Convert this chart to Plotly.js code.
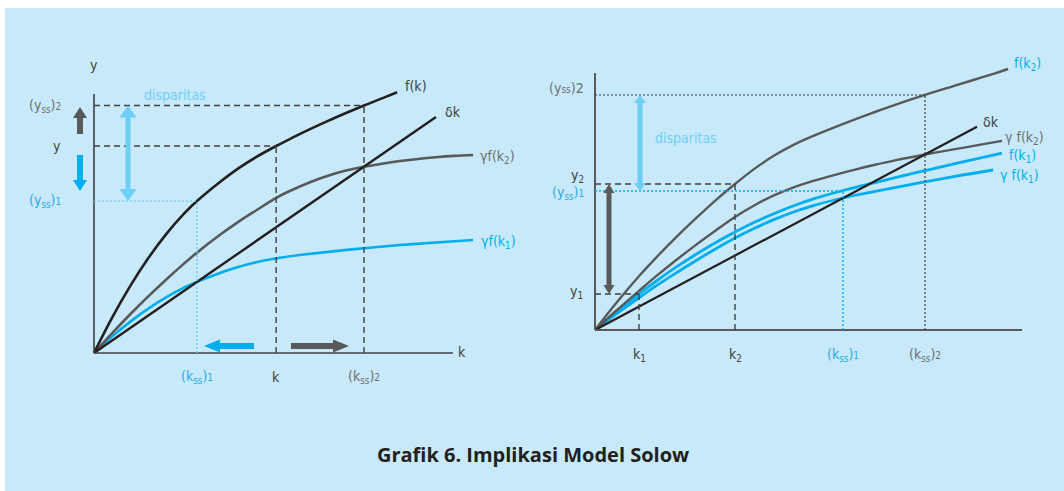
<!DOCTYPE html>
<html><head><meta charset="utf-8">
<script src="https://cdn.plot.ly/plotly-3.0.1.min.js"></script>
<style>html,body{margin:0;padding:0;background:#fff}#chart{width:1064px;height:491px}</style>
</head><body><div id="chart"></div>
<script>
// ---------------- Left panel data (units: k, y) ----------------
const L_fk_k   = [0, 0.5, 1, 1.5, 2, 2.5, 2.86, 3.5, 4, 4.5, 5.06, 5.5, 6, 6.5, 7, 7.5, 8, 8.42];
const L_fk_y   = [0, 0.975, 1.849, 2.623, 3.296, 3.869, 4.22, 4.75, 5.12, 5.44, 5.75, 5.974, 6.217, 6.448, 6.666, 6.875, 7.073, 7.241];
const L_gfk2_k = [0, 0.5, 1, 1.5, 2, 2.5, 2.86, 3.5, 4, 4.5, 5.06, 5.5, 6, 6.5, 7, 7.5, 8, 8.5, 9, 9.5, 10, 10.53];
const L_gfk2_y = [0, 0.547, 1.069, 1.566, 2.037, 2.483, 2.788, 3.283, 3.637, 3.958, 4.31, 4.529, 4.745, 4.924, 5.068, 5.175, 5.259, 5.331, 5.391, 5.439, 5.475, 5.5];
const L_gfk1_k = [0, 0.5, 1, 1.5, 2, 2.5, 2.86, 3.5, 4, 4.5, 5, 5.72, 6.5, 7.5, 8.5, 9.5, 10.53];
const L_gfk1_y = [0, 0.455, 0.865, 1.227, 1.544, 1.816, 1.975, 2.223, 2.386, 2.523, 2.62, 2.72, 2.81, 2.911, 2.998, 3.07, 3.14];
const L_dk_k   = [0, 9.5];
const L_dk_y   = [0, 6.556];
const L_kGuides = [2.86, 5.06, 7.5];    // (kss)1, k, (kss)2
const L_yGuides = [4.22, 5.75, 6.875];  // (yss)1, y, (yss)2

// ---------------- Right panel data ----------------
const R_fk2_k  = [0, 0.5, 1.125, 1.5, 2, 2.5, 3, 3.5, 4, 4.5, 5, 5.3, 6, 6.5, 7, 7.5, 8.25, 9, 9.5, 10, 10.325];
const R_fk2_y  = [0, 0.638, 1.375, 1.78, 2.29, 2.77, 3.23, 3.65, 4.041, 4.373, 4.647, 4.785, 5.071, 5.265, 5.45, 5.627, 5.876, 6.108, 6.263, 6.418, 6.525];
const R_gfk2_k = [0, 0.5, 1.125, 1.5, 2, 2.5, 3, 3.5, 4, 4.5, 5, 5.3, 6, 6.5, 7, 7.5, 8.25, 9, 9.5, 10.175];
const R_gfk2_y = [0, 0.456, 1.0, 1.32, 1.725, 2.11, 2.475, 2.825, 3.126, 3.378, 3.581, 3.68, 3.88, 4.011, 4.131, 4.242, 4.388, 4.521, 4.608, 4.727];
const R_fk1_k  = [0, 0.5, 1.1, 1.5, 2, 2.5, 3, 3.5, 4, 4.5, 5, 5.5, 6.2, 7, 8, 9, 10.175];
const R_fk1_y  = [0, 0.42, 0.9, 1.2, 1.551, 1.876, 2.175, 2.45, 2.698, 2.92, 3.118, 3.29, 3.488, 3.686, 3.926, 4.158, 4.42];
const R_gfk1_k = [0, 0.5, 1.125, 1.5, 2, 2.5, 3, 3.5, 4, 4.5, 5, 5.5, 6.2, 7, 8, 9, 9.95];
const R_gfk1_y = [0, 0.38, 0.825, 1.085, 1.41, 1.72, 2.02, 2.3, 2.55, 2.771, 2.962, 3.123, 3.3, 3.464, 3.659, 3.841, 4.0];
const R_dk_k   = [0, 9.55];
const R_dk_y   = [0, 5.08];
const R_kGuides = [1.1, 3.5, 6.2, 8.25];      // k1, k2, (kss)1, (kss)2
const R_yGuides = [0.9, 3.65, 3.475, 5.875];  // y1, y2, (yss)1, (yss)2

const titleText = 'Grafik 6. Implikasi Model Solow';

// ---------------- styling ----------------
const W = 1064, H = 491;
const PPU_L = 36, PPU_R = 40;             // pixels per unit
const OL = [94, 353], OR = [595, 330];    // origins in px
const BLACK = '#231f20', GRAY = '#58595b', BLUE = '#00aeef', LBLUE = '#6dcff6';
const TXT = '#404041', TGRAY = '#6d6e71', TBLUE = '#29abe2';
const FONT = "'Liberation Sans Narrow', 'DejaVu Sans Condensed', Lato, sans-serif";

function curve(x, y, color, width, ax) {
  return {x, y, type:'scatter', mode:'lines', line:{color, width, shape:'spline', smoothing:1},
          xaxis: ax ? 'x2' : 'x', yaxis: ax ? 'y2' : 'y', hoverinfo:'skip', showlegend:false};
}
const traces = [
  curve(L_gfk1_k, L_gfk1_y, BLUE, 2.6, 0),
  curve(L_gfk2_k, L_gfk2_y, GRAY, 2.6, 0),
  curve(L_dk_k, L_dk_y, BLACK, 2.4, 0),
  curve(L_fk_k, L_fk_y, BLACK, 2.6, 0),
  curve(R_gfk1_k, R_gfk1_y, BLUE, 2.8, 1),
  curve(R_fk1_k, R_fk1_y, BLUE, 2.8, 1),
  curve(R_gfk2_k, R_gfk2_y, GRAY, 2.4, 1),
  curve(R_fk2_k, R_fk2_y, GRAY, 2.4, 1),
  curve(R_dk_k, R_dk_y, BLACK, 2.2, 1)
];

const shapes = [];
// background panel
shapes.push({type:'rect', xref:'paper', yref:'paper', x0:5/W, x1:1, y0:0, y1:(H-8)/H,
  fillcolor:'#c7e9f9', line:{width:0}, layer:'below'});

function seg(ax, x0, y0, x1, y1, color, width, dash) {
  shapes.push({type:'line', xref: ax ? 'x2':'x', yref: ax ? 'y2':'y', x0, y0, x1, y1,
    line:{color, width, dash: dash || 'solid'}, layer:'above'});
}
// left axes
seg(0, 0, 0, (453-OL[0])/PPU_L, 0, TXT, 1.6);
seg(0, 0, 0, 0, (OL[1]-94)/PPU_L, TXT, 1.6);
// right axes
seg(1, 0, 0, (1022-OR[0])/PPU_R, 0, GRAY, 2);
seg(1, 0, 0, 0, (OR[1]-73)/PPU_R, GRAY, 2);

const DASH = '6px,4px', DOT = '2px,2px';
// left guides
seg(0, 0, L_yGuides[2], L_kGuides[2], L_yGuides[2], TXT, 1.4, DASH);
seg(0, 0, L_yGuides[1], L_kGuides[1], L_yGuides[1], TXT, 1.4, DASH);
seg(0, 0, L_yGuides[0], L_kGuides[0], L_yGuides[0], LBLUE, 1.4, DOT);
seg(0, L_kGuides[0], 0, L_kGuides[0], L_yGuides[0], LBLUE, 1.4, DOT);
seg(0, L_kGuides[1], 0, L_kGuides[1], L_yGuides[1], TXT, 1.4, DASH);
seg(0, L_kGuides[2], 0, L_kGuides[2], L_yGuides[2], TXT, 1.4, DASH);
// right guides
seg(1, 0, R_yGuides[3], R_kGuides[3], R_yGuides[3], TXT, 1.2, DOT);
seg(1, 0, R_yGuides[1], R_kGuides[1], R_yGuides[1], TXT, 1.4, DASH);
seg(1, 0, R_yGuides[2], R_kGuides[2], R_yGuides[2], BLUE, 1.4, DOT);
seg(1, 0, R_yGuides[0], R_kGuides[0], R_yGuides[0], TXT, 1.4, DASH);
seg(1, R_kGuides[0], 0, R_kGuides[0], R_yGuides[0], TXT, 1.4, DASH);
seg(1, R_kGuides[1], 0, R_kGuides[1], R_yGuides[1], TXT, 1.4, DASH);
seg(1, R_kGuides[2], 0, R_kGuides[2], R_yGuides[2], BLUE, 1.4, DOT);
seg(1, R_kGuides[3], 0, R_kGuides[3], R_yGuides[3], TXT, 1.2, DOT);

// arrows as pixel-size polygons
function arrow(ax, vertical, fixed, tail, tip, ppu, sw, hw, hl, color, dbl) {
  const len = (tip - tail) * ppu, dir = Math.sign(len), L = Math.abs(len);
  const hs = sw/2, hh = hw/2;
  let pts = dbl
    ? [[hl,-hs],[L-hl,-hs],[L-hl,-hh],[L,0],[L-hl,hh],[L-hl,hs],[hl,hs],[hl,hh],[0,0],[hl,-hh]]
    : [[0,-hs],[L-hl,-hs],[L-hl,-hh],[L,0],[L-hl,hh],[L-hl,hs],[0,hs]];
  const path = 'M ' + pts.map(p => vertical ? (p[1] + ',' + (p[0]*dir)) : ((p[0]*dir) + ',' + p[1])).join(' L ') + ' Z';
  shapes.push({type:'path', xref: ax ? 'x2':'x', yref: ax ? 'y2':'y',
    xsizemode:'pixel', ysizemode:'pixel',
    xanchor: vertical ? fixed : tail, yanchor: vertical ? tail : fixed,
    path, fillcolor:color, line:{width:0}, layer:'above'});
}
// left arrows
arrow(0, true, (80-OL[0])/PPU_L, (OL[1]-134)/PPU_L, (OL[1]-107)/PPU_L, PPU_L, 6, 14, 11, GRAY, false);
arrow(0, true, (80-OL[0])/PPU_L, (OL[1]-155)/PPU_L, (OL[1]-191)/PPU_L, PPU_L, 6, 14, 11, BLUE, false);
arrow(0, true, (128-OL[0])/PPU_L, L_yGuides[0], L_yGuides[2], PPU_L, 5, 17, 12, LBLUE, true);
arrow(0, false, (OL[1]-346)/PPU_L, (254-OL[0])/PPU_L, (204-OL[0])/PPU_L, PPU_L, 6, 13, 16, BLUE, false);
arrow(0, false, (OL[1]-346)/PPU_L, (291-OL[0])/PPU_L, (349-OL[0])/PPU_L, PPU_L, 6, 13, 16, GRAY, false);
// right arrows
arrow(1, true, (640-OR[0])/PPU_R, R_yGuides[2], R_yGuides[3], PPU_R, 5, 12, 8, LBLUE, true);
arrow(1, true, (609-OR[0])/PPU_R, R_yGuides[0], R_yGuides[1], PPU_R, 5, 11, 9, GRAY, true);

// ---------------- annotations ----------------
const ann = [];
function label(ax, text, x, y, color, xanchor, size) {
  ann.push({xref: ax ? 'x2':'x', yref: ax ? 'y2':'y', x, y, text, showarrow:false,
    xanchor: xanchor || 'center', yanchor:'middle',
    font:{family:FONT, size: size || 14, color}});
}
const sm = s => '<span style="font-size:10px">' + s + '</span>';
// left
label(0, 'y', 0, (OL[1]-65)/PPU_L, TXT);
label(0, '(y<sub>ss</sub>)' + sm('2'), (63-OL[0])/PPU_L, L_yGuides[2], TGRAY, 'right');
label(0, 'y', (63-OL[0])/PPU_L, L_yGuides[1], TXT, 'right');
label(0, '(y<sub>ss</sub>)' + sm('1'), (63-OL[0])/PPU_L, L_yGuides[0], TBLUE, 'right');
label(0, '(k<sub>ss</sub>)' + sm('1'), L_kGuides[0], (OL[1]-377)/PPU_L, TBLUE);
label(0, 'k', L_kGuides[1], (OL[1]-377)/PPU_L, TXT);
label(0, '(k<sub>ss</sub>)' + sm('2'), L_kGuides[2], (OL[1]-377)/PPU_L, TGRAY);
label(0, 'k', (456-OL[0])/PPU_L, (OL[1]-352)/PPU_L, TXT, 'left');
label(0, 'f(k)', (403-OL[0])/PPU_L, (OL[1]-86)/PPU_L, TXT, 'left');
label(0, 'δk', (443-OL[0])/PPU_L, (OL[1]-112)/PPU_L, TXT, 'left');
label(0, 'γf(k<sub>2</sub>)', (478-OL[0])/PPU_L, (OL[1]-157)/PPU_L, TGRAY, 'left');
label(0, 'γf(k<sub>1</sub>)', (479-OL[0])/PPU_L, (OL[1]-242)/PPU_L, BLUE, 'left');
label(0, 'disparitas', (175-OL[0])/PPU_L, (OL[1]-95)/PPU_L, LBLUE);
// right
label(1, '(y' + sm('ss') + ')2', (586-OR[0])/PPU_R, (OR[1]-88)/PPU_R, TGRAY, 'right');
label(1, 'y<sub>2</sub>', (586-OR[0])/PPU_R, (OR[1]-176)/PPU_R, TXT, 'right');
label(1, '(y<sub>ss</sub>)' + sm('1'), (586-OR[0])/PPU_R, (OR[1]-193)/PPU_R, TBLUE, 'right');
label(1, 'y<sub>1</sub>', (585-OR[0])/PPU_R, (OR[1]-292)/PPU_R, TXT, 'right');
label(1, 'k<sub>1</sub>', R_kGuides[0], (OR[1]-355)/PPU_R, TXT);
label(1, 'k<sub>2</sub>', R_kGuides[1], (OR[1]-355)/PPU_R, TXT);
label(1, '(k<sub>ss</sub>)' + sm('1'), R_kGuides[2], (OR[1]-355)/PPU_R, TBLUE);
label(1, '(k<sub>ss</sub>)' + sm('2'), R_kGuides[3], (OR[1]-355)/PPU_R, TGRAY);
label(1, 'f(k<sub>2</sub>)', (1012-OR[0])/PPU_R, (OR[1]-64)/PPU_R, BLUE, 'left');
label(1, 'δk', (981-OR[0])/PPU_R, (OR[1]-122)/PPU_R, TXT, 'left');
label(1, 'γ f(k<sub>2</sub>)', (1003-OR[0])/PPU_R, (OR[1]-138)/PPU_R, TGRAY, 'left');
label(1, 'f(k<sub>1</sub>)', (1007-OR[0])/PPU_R, (OR[1]-156)/PPU_R, BLUE, 'left');
label(1, 'γ f(k<sub>1</sub>)', (998-OR[0])/PPU_R, (OR[1]-176)/PPU_R, BLUE, 'left');
label(1, 'disparitas', (653-OR[0])/PPU_R, (OR[1]-138)/PPU_R, LBLUE, 'left');

const noAxis = {visible:false, showgrid:false, zeroline:false, fixedrange:true};
const layout = {
  width: W, height: H,
  margin:{l:0, r:0, t:0, b:0, pad:0},
  paper_bgcolor:'#ffffff', plot_bgcolor:'rgba(0,0,0,0)',
  showlegend:false,
  title:{text:'<b>' + titleText + '</b>', x:0.501, xanchor:'center', xref:'paper',
         y:1 - 455/H, yanchor:'middle', yref:'container',
         font:{family:"'Open Sans', 'Noto Sans', sans-serif", size:20, color:'#231f20'}},
  xaxis:Object.assign({domain:[0,1], range:[-OL[0]/PPU_L, (W-OL[0])/PPU_L], anchor:'y'}, noAxis),
  yaxis:Object.assign({domain:[0,1], range:[-(H-OL[1])/PPU_L, OL[1]/PPU_L], anchor:'x'}, noAxis),
  xaxis2:Object.assign({domain:[0,1], range:[-OR[0]/PPU_R, (W-OR[0])/PPU_R], anchor:'y2', overlaying:'x'}, noAxis),
  yaxis2:Object.assign({domain:[0,1], range:[-(H-OR[1])/PPU_R, OR[1]/PPU_R], anchor:'x2', overlaying:'y'}, noAxis),
  shapes, annotations: ann
};
Plotly.newPlot('chart', traces, layout, {staticPlot:true, displayModeBar:false});
</script>
</body></html>
